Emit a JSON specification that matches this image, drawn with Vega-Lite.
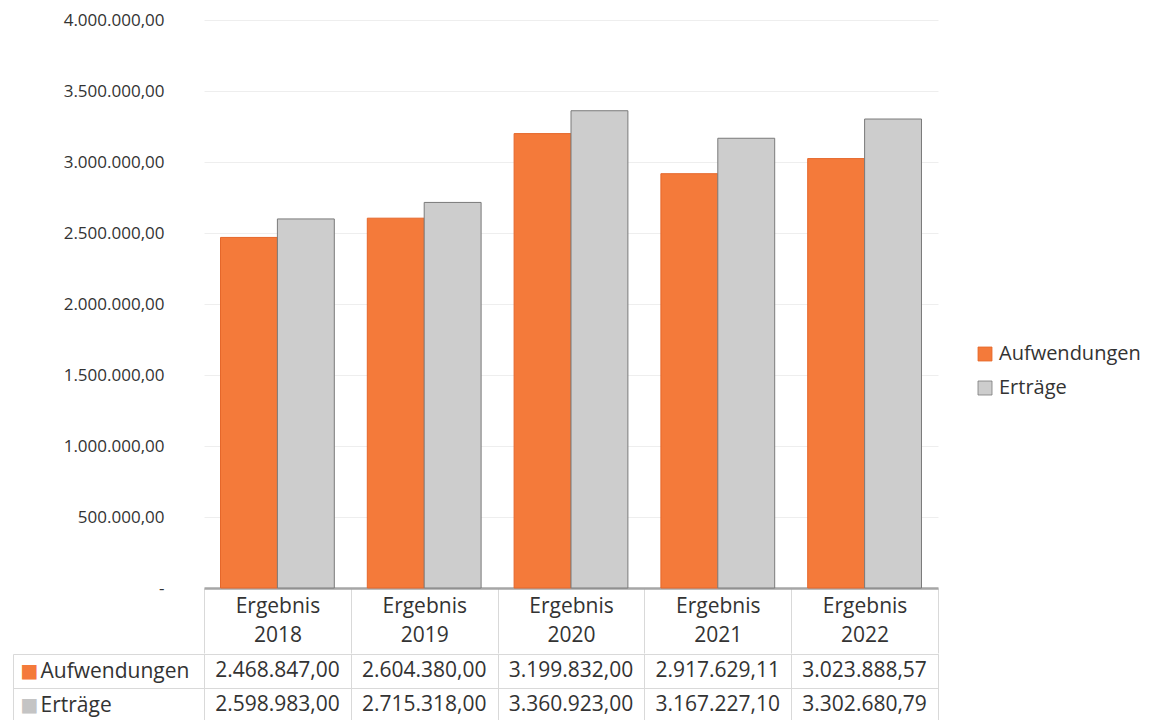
{
  "$schema": "https://vega.github.io/schema/vega-lite/v6.json",
  "padding": {"left": 12, "top": 11, "right": 5, "bottom": 0},
  "background": "white",
  "spacing": -13,
  "data": {"values": [
    {"cat": "Ergebnis 2018", "series": "Aufwendungen", "value": 2468847.00},
    {"cat": "Ergebnis 2018", "series": "Erträge", "value": 2598983.00},
    {"cat": "Ergebnis 2019", "series": "Aufwendungen", "value": 2604380.00},
    {"cat": "Ergebnis 2019", "series": "Erträge", "value": 2715318.00},
    {"cat": "Ergebnis 2020", "series": "Aufwendungen", "value": 3199832.00},
    {"cat": "Ergebnis 2020", "series": "Erträge", "value": 3360923.00},
    {"cat": "Ergebnis 2021", "series": "Aufwendungen", "value": 2917629.11},
    {"cat": "Ergebnis 2021", "series": "Erträge", "value": 3167227.10},
    {"cat": "Ergebnis 2022", "series": "Aufwendungen", "value": 3023888.57},
    {"cat": "Ergebnis 2022", "series": "Erträge", "value": 3302680.79}
  ]},
  "resolve": {"legend": {"color": "independent", "stroke": "independent"}},
  "vconcat": [
    {
      "width": 734,
      "height": 568,
      "view": {"stroke": null},
      "mark": {"type": "bar", "strokeWidth": 1},
      "encoding": {
        "x": {
          "field": "cat", "type": "nominal", "sort": null,
          "scale": {"paddingInner": 0, "paddingOuter": 0},
          "axis": {
            "title": null, "labelAngle": 0,
            "labelExpr": "split(datum.label, ' ')",
            "labelFont": "Open Sans", "labelFontSize": 21, "labelColor": "#333333",
            "labelLineHeight": 29, "labelBaseline": "top", "labelPadding": -58,
            "tickBand": "extent", "tickSize": 65, "tickColor": "#d9d9d9", "tickWidth": 1,
            "domainColor": "#a6a6a6", "domainWidth": 2.5, "grid": false
          }
        },
        "xOffset": {
          "field": "series", "sort": ["Aufwendungen", "Erträge"],
          "scale": {"paddingOuter": 0.29, "paddingInner": 0}
        },
        "y": {
          "field": "value", "type": "quantitative",
          "scale": {"domain": [0, 4000000], "nice": false},
          "axis": {
            "title": null,
            "values": [0, 500000, 1000000, 1500000, 2000000, 2500000, 3000000, 3500000, 4000000],
            "format": ",.2f",
            "labelExpr": "datum.value == 0 ? '-' : datum.label",
            "domain": false, "ticks": false,
            "gridColor": "#eeeeee", "gridWidth": 1,
            "labelPadding": 40, "labelFont": "Open Sans", "labelFontSize": 17, "labelColor": "#333333"
          }
        },
        "color": {
          "field": "series", "type": "nominal",
          "scale": {"domain": ["Aufwendungen", "Erträge"], "range": ["#f47a3a", "#cdcdcd"]},
          "legend": {
            "title": null, "orient": "none", "legendX": 771, "legendY": 324,
            "symbolType": "square", "symbolSize": 196,
            "symbolStrokeColor": "#808080", "symbolStrokeWidth": 0.8,
            "labelFont": "Open Sans", "labelFontSize": 20, "labelColor": "#333333",
            "rowPadding": 14, "labelOffset": 4, "padding": 0, "labelLimit": 200
          }
        },
        "stroke": {
          "field": "series", "type": "nominal",
          "scale": {"domain": ["Aufwendungen", "Erträge"], "range": ["#e5672a", "#7a7a7a"]},
          "legend": null
        }
      }
    },
    {
      "width": 734,
      "height": 68,
      "view": {"stroke": "#d9d9d9"},
      "layer": [
        {
          "mark": {"type": "text", "font": "Open Sans", "fontSize": 21, "color": "#333333"},
          "encoding": {
            "x": {
              "field": "cat", "type": "nominal", "sort": null,
              "scale": {"paddingInner": 0, "paddingOuter": 0},
              "axis": {"title": null, "labels": false, "ticks": false, "domain": false, "grid": true, "tickBand": "extent", "gridColor": "#d9d9d9"}
            },
            "y": {
              "field": "series", "type": "nominal", "sort": ["Aufwendungen", "Erträge"],
              "scale": {"paddingInner": 0, "paddingOuter": 0},
              "axis": {
                "title": null, "domain": false, "grid": true, "gridColor": "#d9d9d9",
                "tickBand": "extent", "tickSize": 191, "tickColor": "#d9d9d9",
                "labelAlign": "left", "labelPadding": -27,
                "labelFont": "Open Sans", "labelFontSize": 21, "labelColor": "#333333"
              }
            },
            "text": {"field": "value", "type": "quantitative", "format": ",.2f"}
          }
        },
        {
          "mark": {"type": "text", "opacity": 0},
          "encoding": {
            "x": {"field": "cat", "type": "nominal", "sort": null},
            "y": {
              "field": "series", "type": "nominal", "sort": ["Aufwendungen", "Erträge"],
              "axis": {
                "orient": "left", "offset": 191, "title": null,
                "domain": true, "domainColor": "#d9d9d9", "ticks": false,
                "labelExpr": "'■'", "labelAlign": "left", "labelPadding": -7,
                "labelFont": "DejaVu Sans", "labelFontSize": 19,
                "labelColor": {"condition": {"test": "datum.value === 'Aufwendungen'", "value": "#f47a3a"}, "value": "#c4c4c4"}
              }
            },
            "text": {"field": "value", "type": "quantitative"}
          }
        }
      ],
      "resolve": {"axis": {"y": "independent"}}
    }
  ],
  "config": {
    "font": "Open Sans",
    "locale": {"number": {"decimal": ",", "thousands": ".", "grouping": [3], "currency": ["", " €"]}}
  }
}
